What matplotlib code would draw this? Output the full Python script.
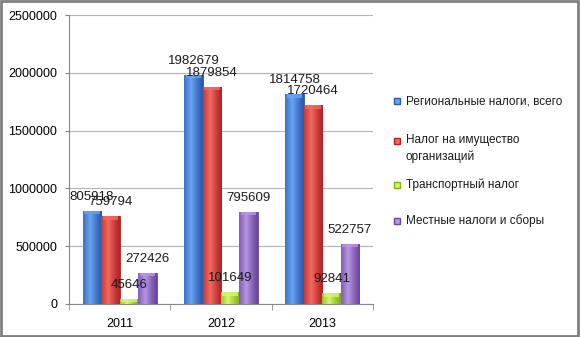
import numpy as np
import matplotlib.pyplot as plt
from matplotlib.colors import to_rgb
from matplotlib.patches import Rectangle

plt.rcParams['font.family'] = ['Liberation Sans', 'DejaVu Sans']

# Налоговые поступления по годам
years = ['2011', '2012', '2013']
series_names = ['Региональные налоги, всего',
                'Налог на имущество\nорганизаций',
                'Транспортный налог',
                'Местные налоги и сборы']
regional = [805918, 1982679, 1814758]
property_tax = [759794, 1879854, 1720464]
transport = [45646, 101649, 92841]
local = [272426, 795609, 522757]

values = [regional, property_tax, transport, local]
# (тёмный край, светлая середина) для каждой серии
colors = [('#2a5ab0', '#6aa4f0'),
          ('#b02424', '#f26a62'),
          ('#7fae1e', '#d6f76a'),
          ('#6a449e', '#b796e4')]

fig = plt.figure(figsize=(5.8, 3.37), dpi=100)
ax = fig.add_axes([69 / 580, 1 - 304 / 337, 304 / 580, 289 / 337])

x = np.arange(len(years))
w = 0.182


def gradient(dark, light, n=64):
    d = np.array(to_rgb(dark))
    l = np.array(to_rgb(light))
    t = np.linspace(0, 1, n)
    # светлая полоса ближе к левому краю, затемнение к краям
    k = np.clip(1 - np.abs(t - 0.38) / 0.62, 0, 1) ** 1.2
    row = d[None, :] * (1 - k[:, None]) + l[None, :] * k[:, None]
    return row[None, :, :]


for i, (vals, (dark, light)) in enumerate(zip(values, colors)):
    pos = x + (i - 1.5) * w
    bars = ax.bar(pos, vals, width=w, color=dark, edgecolor=dark,
                  linewidth=0.6, zorder=3, label=series_names[i])
    img = gradient(dark, light)
    for b, v in zip(bars, vals):
        x0 = b.get_x()
        im = ax.imshow(img, extent=[x0, x0 + w, 0, v], aspect='auto',
                       zorder=3.5, interpolation='bilinear')
        im.set_clip_path(b)
        # светлая фаска сверху столбика
        cap = 2500000 * 0.012
        ax.add_patch(Rectangle((x0 + w * 0.08, v - cap), w * 0.84, cap,
                               color=light, alpha=0.8, zorder=3.6, lw=0))
        ax.annotate(f'{v}', (x0 + w / 2, v), xytext=(0, 10),
                    textcoords='offset points', ha='center', va='center',
                    fontsize=9.5, color='#1a1a1a', zorder=5)

ax.set_xlim(-0.5, 2.5)
ax.set_ylim(0, 2500000)
ax.set_yticks(np.arange(0, 2500001, 500000))
ax.set_yticklabels([str(v) for v in range(0, 2500001, 500000)])
ax.set_xticks(x)
ax.set_xticklabels(years)
ax.set_xticks([-0.5, 0.5, 1.5, 2.5], minor=True)
ax.tick_params(axis='x', which='major', length=0, pad=10, labelsize=9)
ax.tick_params(axis='x', which='minor', length=4, color='#888888')
ax.tick_params(axis='y', length=3, color='#888888', labelsize=9, pad=5.5)
ax.yaxis.grid(True, color='#b4b4b4', linewidth=0.8, zorder=0)
ax.set_axisbelow(True)
for s in ['top', 'right']:
    ax.spines[s].set_visible(False)
for s in ['left', 'bottom']:
    ax.spines[s].set_color('#888888')
    ax.spines[s].set_linewidth(0.8)

# легенда справа от области построения
legend_y = [101, 141, 185, 221]
for name, (dark, light), yy in zip(series_names, colors, legend_y):
    fy = 1 - yy / 337
    fig.patches.append(Rectangle((394 / 580, fy - 3 / 337), 6 / 580, 6 / 337,
                                 facecolor=light, edgecolor=dark, lw=1,
                                 transform=fig.transFigure))
    if '\n' in name:
        fig.text(406 / 580, fy + 7 / 337, name, fontsize=8.5,
                 color='#1a1a1a', va='top', linespacing=1.45)
    else:
        fig.text(406 / 580, fy, name, fontsize=8.5, color='#1a1a1a',
                 va='center')

# рамка вокруг диаграммы
fig.patches.append(Rectangle((0.002, 0.003), 0.994, 0.994, fill=False,
                             edgecolor='#808080', lw=2,
                             transform=fig.transFigure))

fig.savefig('out.png', dpi=100)
